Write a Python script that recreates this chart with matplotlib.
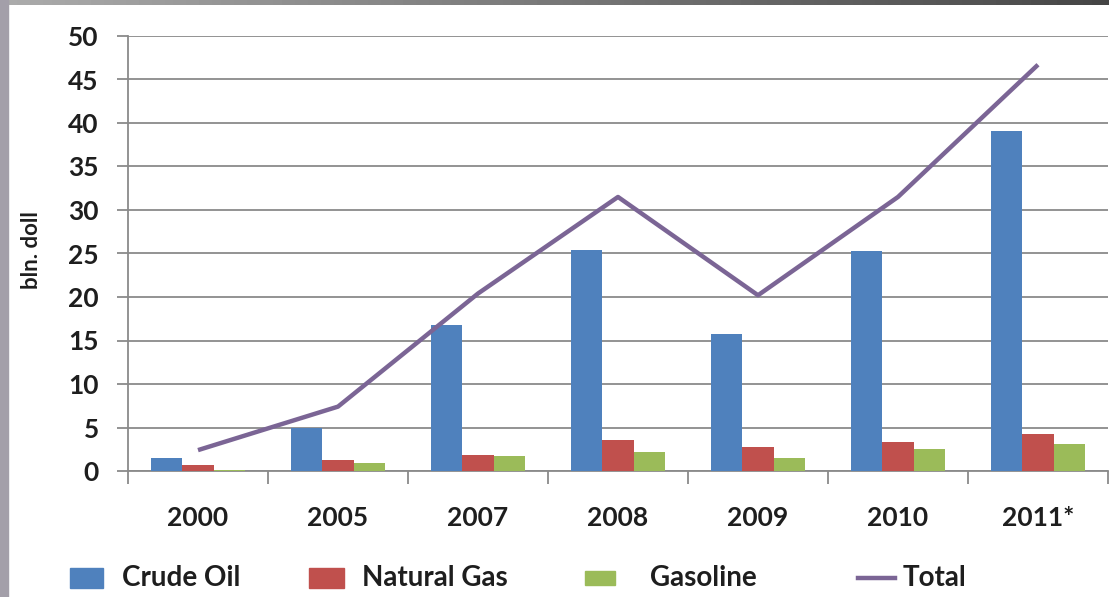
import numpy as np
import matplotlib
matplotlib.use("Agg")
import matplotlib.pyplot as plt
from matplotlib.patches import Rectangle
from matplotlib.lines import Line2D

years = ["2000", "2005", "2007", "2008", "2009", "2010", "2011*"]
crude_oil = [1.5, 5.0, 16.8, 25.4, 15.8, 25.3, 39.1]
natural_gas = [0.7, 1.3, 1.8, 3.6, 2.8, 3.3, 4.3]
gasoline = [0.15, 0.9, 1.7, 2.2, 1.5, 2.5, 3.1]
total = [2.4, 7.4, 20.4, 31.5, 20.2, 31.5, 46.7]

BLUE, RED, GREEN, PURPLE = "#4F81BD", "#C0504D", "#9BBB59", "#7B6595"
GRID = "#8a8a8a"
INK = "#1e1e1e"
FONT = "Lato"

W, H = 1109, 597
fig = plt.figure(figsize=(W / 100, H / 100), dpi=100, facecolor="white")

# grey slide frame along the top and left edges
top = fig.add_axes([0, 1 - 5 / H, 1, 5 / H])
top.imshow(np.linspace(0, 1, 256)[None, :], aspect="auto", cmap="Greys",
           vmin=-1.2, vmax=1.6, extent=[0, 1, 0, 1])
top.axis("off")
fig.patches.append(Rectangle((0, 0), 8 / W, 1, transform=fig.transFigure,
                             color="#a39fa9", zorder=0))

ax = fig.add_axes([128 / W, (H - 471) / H, 980 / W, 435 / H])
x = np.arange(len(years))
bw = 1 / 4.5
ax.bar(x - bw, crude_oil, bw, color=BLUE, zorder=3)
ax.bar(x, natural_gas, bw, color=RED, zorder=3)
ax.bar(x + bw, gasoline, bw, color=GREEN, zorder=3)
ax.plot(x, total, color=PURPLE, lw=3.2, zorder=4, solid_capstyle="butt")

ax.set_xlim(-0.5, len(years) - 0.5)
ax.set_ylim(0, 50)
ax.set_yticks(np.arange(0, 51, 5))
ax.yaxis.grid(True, color=GRID, lw=1.3, zorder=0)
ax.set_xticks(x)
ax.set_xticklabels(years)
ax.set_xticks(np.arange(-0.5, len(years)), minor=True)
ax.tick_params(axis="x", which="major", length=0, pad=25)
ax.tick_params(axis="x", which="minor", length=9, color=GRID, width=1.3)
ax.tick_params(axis="y", length=8, color=GRID, width=1.3, pad=13)
for lab in ax.get_xticklabels() + ax.get_yticklabels():
    lab.set_fontfamily(FONT)
    lab.set_fontweight("bold")
    lab.set_fontsize(19)
    lab.set_color(INK)
for s in ("top", "right"):
    ax.spines[s].set_visible(False)
for s in ("left", "bottom"):
    ax.spines[s].set_color(GRID)
    ax.spines[s].set_linewidth(1.3)

fig.text(31 / W, 1 - 250 / H, "bln. doll", rotation=90, ha="center", va="center",
         fontsize=16, fontweight="bold", family=FONT, color=INK)

# legend row along the bottom
legend_items = [("Crude Oil", BLUE, "box", 70, 33, 20, 122),
                ("Natural Gas", RED, "box", 309, 35, 20, 362),
                ("Gasoline", GREEN, "box", 585, 30, 14, 650),
                ("Total", PURPLE, "line", 858, 37, 0, 903)]
ly = 1 - 578 / H
for label, col, kind, hx, hw, hh, tx in legend_items:
    if kind == "box":
        fig.patches.append(Rectangle((hx / W, ly - hh / 2 / H), hw / W, hh / H,
                                     transform=fig.transFigure, color=col))
    else:
        fig.lines.append(Line2D([hx / W, (hx + hw) / W], [ly, ly], color=col,
                                lw=3.2, transform=fig.transFigure))
    fig.text(tx / W, ly, label, ha="left", va="center", fontsize=20,
             fontweight="bold", family=FONT, color=INK)

fig.savefig("out.png", dpi=100, facecolor="white")
